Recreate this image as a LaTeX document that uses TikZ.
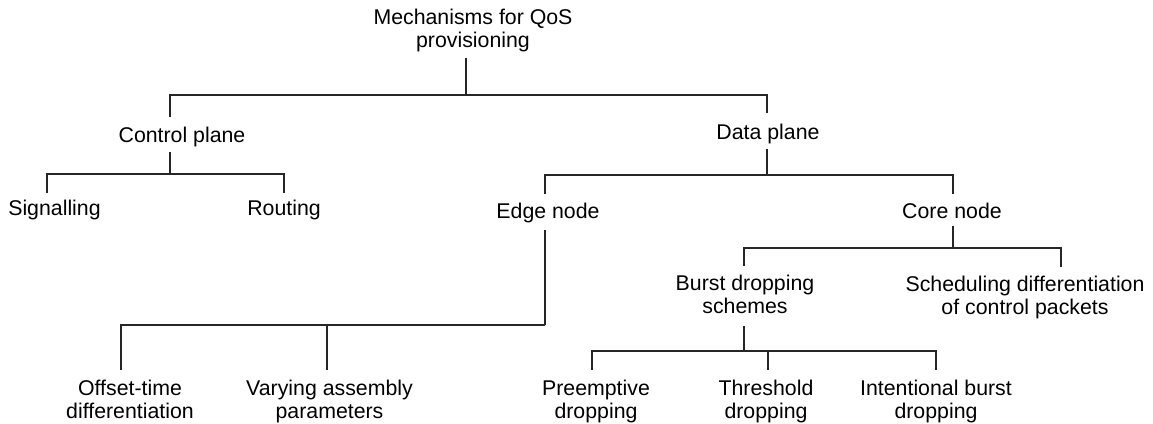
\documentclass[tikz,border=0pt]{standalone}
\usepackage{fontspec}
\setmainfont{Liberation Sans}
\usetikzlibrary{calc}
\begin{document}
\begin{tikzpicture}[x=0.02cm, y=-0.02cm,
  lbl/.style={anchor=base, align=center, inner sep=0pt,
              font=\fontsize{12.13}{13.04}\selectfont},
  link/.style={draw=black!85, line width=0.7pt}]
\useasboundingbox (0,0) rectangle (1153,423);
\fill[white] (0,0) rectangle (1153,423);

% labels of the hierarchy (base anchor = baseline of the last line)
\node[lbl] (root)  at (473,47)   {Mechanisms for QoS\\provisioning};
\node[lbl] (ctrl)  at (182,142)  {Control plane};
\node[lbl] (data)  at (768,139)  {Data plane};
\node[lbl] (sig)   at (54.5,215) {Signalling};
\node[lbl] (rout)  at (284,215)  {Routing};
\node[lbl] (edge)  at (548,218)  {Edge node};
\node[lbl] (core)  at (952,218)  {Core node};
\node[lbl] (off)   at (130,418)  {Offset-time\\differentiation};
\node[lbl] (vary)  at (329.5,418){Varying assembly\\parameters};
\node[lbl] (burst) at (745,313)  {Burst dropping\\schemes};
\node[lbl] (sched) at (1025,314) {Scheduling differentiation\\of control packets};
\node[lbl] (pre)   at (596,418)  {Preemptive\\dropping};
\node[lbl] (thr)   at (766,418)  {Threshold\\dropping};
\node[lbl] (int)   at (936,418)  {Intentional burst\\dropping};

% root fork
\draw[link] ($(root.base)+(-7,11)$) -- ++(0,37) coordinate (f1);
\draw[link] (f1) -| ($(ctrl.base)+(-12,-25)$);
\draw[link] (f1) -| ($(data.base)+(-1,-26)$);

% control plane fork
\draw[link] ($(ctrl.base)+(-12,10)$) -- ++(0,22) coordinate (f2);
\draw[link] (f2) -| ($(sig.base)+(-7.5,-22)$);
\draw[link] (f2) -| ($(rout.base)+(0,-22)$);

% data plane fork
\draw[link] ($(data.base)+(-1,10)$) -- ++(0,26) coordinate (f3);
\draw[link] (f3) -| ($(edge.base)+(-3,-24)$);
\draw[link] (f3) -| ($(core.base)+(1,-24)$);

% edge node fork
\draw[link] ($(edge.base)+(-3,12)$) -- ++(0,95) coordinate (f4);
\draw[link] (f4) -| ($(off.base)+(-9,-48)$);
\draw[link] (f4) -| ($(vary.base)+(-2.5,-48)$);

% core node fork
\draw[link] ($(core.base)+(1,8)$) -- ++(0,22) coordinate (f5);
\draw[link] (f5) -| ($(burst.base)+(-1,-47)$);
\draw[link] (f5) -| ($(sched.base)+(36,-47)$);

% burst dropping fork
\draw[link] ($(burst.base)+(-1,13)$) -- ++(0,25) coordinate (f6);
\draw[link] (f6) -| ($(pre.base)+(-4,-48)$);
\draw[link] (f6) -| ($(thr.base)+(2,-48)$);
\draw[link] (f6) -| ($(int.base)+(0,-48)$);
\end{tikzpicture}
\end{document}
